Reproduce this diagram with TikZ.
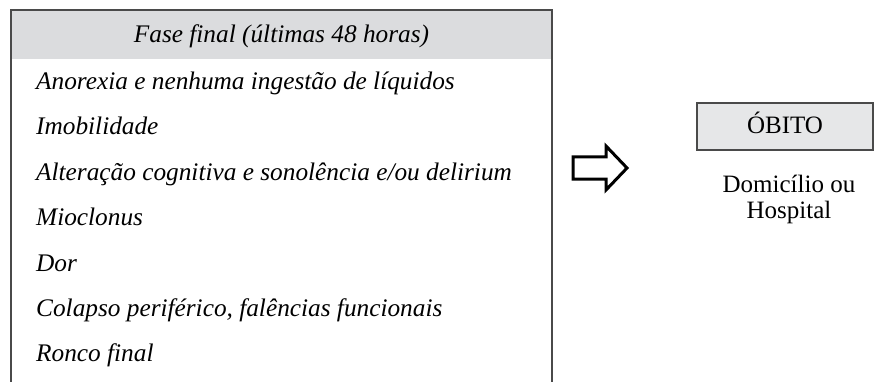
\documentclass[tikz,border=0pt]{standalone}
\usepackage{fontspec}
\setmainfont{Liberation Serif}
\definecolor{headgray}{RGB}{219,220,222}
\definecolor{boxgray}{RGB}{230,231,232}
\definecolor{framegray}{RGB}{74,74,74}

\begin{document}
\begin{tikzpicture}[x=1pt,y=-1pt,auto=left]
\useasboundingbox (0,0) rectangle (874,382);

\tikzstyle{every node}=[inner sep=0pt,font=\fontsize{25}{26}\selectfont]
\tikzstyle{item}=[anchor=base west,font=\fontsize{25.3}{26}\selectfont\itshape]

% left panel, open at the bottom
\fill [headgray] (11,10) rectangle (552,59);
\draw [framegray,line width=2pt] (11,382) -- (11,10) -- (552,10) -- (552,382);

\node[anchor=base,font=\fontsize{25.3}{26}\selectfont\itshape] (fase) at (281.5,43) {Fase final (últimas 48 horas)};
\node[item] (anorexia) at (36,90)  {Anorexia e nenhuma ingestão de líquidos};
\node[item] (imob)     at (36,135) {Imobilidade};
\node[item] (cogn)     at (36,180) {Alteração cognitiva e sonolência e/ou delirium};
\node[item] (mioc)     at (36,225) {Mioclonus};
\node[item] (dor)      at (36,271) {Dor};
\node[item] (colapso)  at (36,316) {Colapso periférico, falências funcionais};
\node[item] (ronco)    at (36,361) {Ronco final};

% block arrow
\draw [line width=3pt,line join=miter] (573,157) -- (606,157) -- (606,146)
  -- (627,168) -- (606,190) -- (606,179) -- (573,179) -- cycle;

% right side
\draw [framegray,fill=boxgray,line width=1.5pt] (697,103) rectangle (873,150);
\node[anchor=base] (obito) at (785,134) {ÓBITO};
\node[anchor=base] (domicilio) at (789,192) {Domicílio ou};
\node[anchor=base] (hospital) at (789,218) {Hospital};

\end{tikzpicture}
\end{document}
